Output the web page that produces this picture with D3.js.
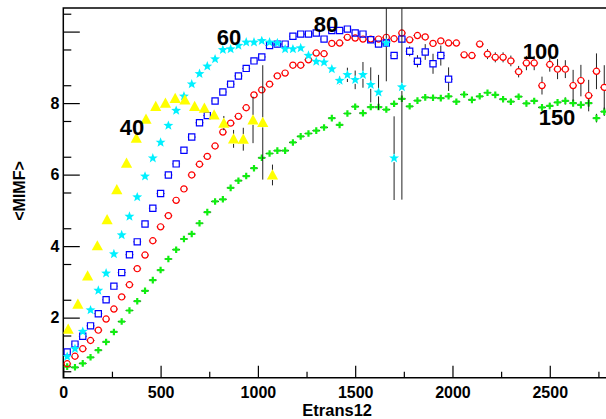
<!DOCTYPE html>
<html>
<head>
<meta charset="utf-8">
<script src="https://cdn.jsdelivr.net/npm/d3@7"></script>
<style>
  body { margin: 0; background: #fff; }
  svg { display: block; font-family: "Liberation Sans", Arial, sans-serif; font-weight: bold; }
  .axis text { font-size: 16px; font-weight: bold; fill: #000; }
  .axis line { stroke: #000; stroke-width: 1.2; }
</style>
</head>
<body>
<svg id="chart" width="606" height="419"></svg>
<script>
// <MIMF> vs Etrans12, one curve per label

const x40 = [25, 75, 125, 175, 225, 275, 325, 375, 425, 475, 525, 575, 625, 675, 725, 775, 825, 875, 925, 975, 1025, 1075];
const mimf40 = [1.68, 2.38, 3.17, 4.01, 4.74, 5.58, 6.32, 7.02, 7.55, 7.91, 8.00, 8.13, 8.09, 7.91, 7.86, 7.67, 7.44, 7.00, 6.99, 7.53, 7.46, 5.99];
const err40 = [0, 0, 0, 0, 0, 0, 0, 0, 0, 0, 0, 0, 0, 0.05, 0.08, 0.1, 0.2, 0.25, 0.32, 0.65, 1.6, 0.29];

const x60 = [20, 60, 100, 140, 180, 220, 260, 300, 340, 380, 420, 460, 500, 540, 580, 620, 660, 700, 740, 780, 820, 860,
  900, 940, 980, 1020, 1060, 1100, 1140, 1180, 1220, 1260, 1300, 1340, 1380, 1420, 1460, 1500, 1540, 1580, 1620, 1660, 1700, 1740];
const mimf60 = [0.91, 1.13, 1.61, 2.21, 2.76, 3.24, 3.78, 4.31, 4.83, 5.37, 5.95, 6.46, 6.90, 7.37, 7.79, 8.19, 8.53, 8.82, 9.03, 9.23, 9.49, 9.51,
  9.61, 9.70, 9.70, 9.74, 9.70, 9.68, 9.51, 9.51, 9.54, 9.33, 9.16, 9.14, 8.95, 8.63, 8.79, 8.65, 8.79, 8.51, 8.30, 9.68, 6.46, 8.45];
const err60 = [0, 0, 0, 0, 0, 0, 0, 0, 0, 0, 0, 0, 0, 0, 0, 0, 0, 0, 0, 0, 0, 0,
  0, 0, 0, 0, 0, 0, 0, 0, 0, 0, 0, 0.05, 0.1, 0.12, 0.2, 0.26, 0.36, 0.49, 0.49, 1.07, 1.17, 3.15];

const x80 = [20, 60, 100, 140, 180, 220, 260, 300, 340, 380, 420, 460, 500, 540, 580, 620, 660, 700, 740, 780, 820, 860,
  900, 940, 980, 1020, 1060, 1100, 1140, 1180, 1220, 1260, 1300, 1340, 1380, 1420, 1460, 1500, 1540, 1580, 1620, 1660, 1700, 1740,
  1780, 1820, 1860, 1900, 1940, 1980];
const mimf80 = [1.04, 1.26, 1.48, 1.77, 2.11, 2.50, 2.88, 3.26, 3.76, 4.12, 4.62, 5.06, 5.47, 5.99, 6.30, 6.68, 7.05, 7.45, 7.65, 8.06, 8.31, 8.53,
  8.76, 8.97, 9.18, 9.29, 9.61, 9.65, 9.65, 9.87, 9.93, 9.93, 9.96, 9.79, 10.03, 10.03, 10.07, 9.96, 9.93, 9.77, 9.65, 9.68, 9.33, 9.79,
  9.45, 9.17, 9.43, 9.10, 9.33, 8.67];
const err80 = [0, 0, 0, 0, 0, 0, 0, 0, 0, 0, 0, 0, 0, 0, 0, 0, 0, 0, 0, 0, 0, 0,
  0, 0, 0, 0, 0, 0, 0, 0, 0, 0, 0, 0, 0, 0, 0, 0.05, 0.05, 0.06, 0.08, 0.08, 0.1, 0.1,
  0.14, 0.17, 0.22, 0.28, 0.28, 0.33];

const x100 = [20, 60, 100, 140, 180, 220, 260, 300, 340, 380, 420, 460, 500, 540, 580, 620, 660, 700, 740, 780, 820, 860,
  900, 940, 980, 1020, 1060, 1100, 1140, 1180, 1220, 1260, 1300, 1340, 1380, 1420, 1460, 1500, 1540, 1580, 1620, 1660, 1700, 1740,
  1780, 1820, 1860, 1900, 1940, 1980, 2020, 2060, 2100, 2140, 2180, 2220, 2260, 2300, 2340, 2380, 2420, 2460, 2500, 2540, 2580,
  2620, 2660, 2700, 2740, 2780];
const mimf100 = [0.71, 0.92, 1.13, 1.36, 1.65, 1.96, 2.24, 2.58, 2.92, 3.37, 3.75, 4.15, 4.54, 4.85, 5.28, 5.60, 5.99, 6.29, 6.51, 6.80, 7.19, 7.44,
  7.63, 7.87, 8.23, 8.37, 8.53, 8.76, 8.84, 9.06, 9.06, 9.21, 9.40, 9.38, 9.67, 9.68, 9.84, 9.82, 9.79, 9.79, 9.79, 9.84, 9.80, 9.96,
  9.77, 9.89, 9.85, 9.67, 9.74, 9.68, 9.68, 9.35, 9.33, 9.65, 9.37, 9.28, 9.28, 9.18, 8.88, 9.12, 9.12, 8.49, 9.08, 8.95, 8.95,
  8.49, 8.63, 8.21, 8.89, 8.44];
const err100 = [0, 0, 0, 0, 0, 0, 0, 0, 0, 0, 0, 0, 0, 0, 0, 0, 0, 0, 0, 0, 0, 0,
  0, 0, 0, 0, 0, 0, 0, 0, 0, 0, 0, 0, 0, 0, 0, 0, 0, 0, 0, 0, 0, 0,
  0.04, 0.04, 0.05, 0.05, 0.05, 0.06, 0.06, 0.08, 0.08, 0.1, 0.14, 0.14, 0.14, 0.15, 0.16, 0.2, 0.2, 0.25, 0.2, 0.28, 0.25,
  0.44, 0.44, 0.44, 0.5, 0.62];

const x150 = x100;
const mimf150 = [0.63, 0.61, 0.72, 0.89, 1.09, 1.32, 1.60, 1.89, 2.20, 2.46, 2.75, 3.05, 3.33, 3.64, 3.90, 4.20, 4.34, 4.64, 4.95, 5.25, 5.31, 5.63,
  5.83, 5.96, 6.18, 6.47, 6.59, 6.67, 6.67, 6.90, 7.07, 7.15, 7.23, 7.32, 7.58, 7.39, 7.71, 7.90, 7.72, 7.89, 7.89, 7.82, 7.98, 8.12,
  7.91, 8.07, 8.16, 8.15, 8.14, 8.19, 8.04, 8.24, 8.09, 8.19, 8.29, 8.23, 8.11, 8.04, 8.18, 7.99, 8.06, 7.88, 7.92, 8.02, 8.06,
  8.00, 7.95, 8.00, 7.58, 7.76];
const err150 = [0.04, 0.04, 0.04, 0.04, 0.04, 0.04, 0.04, 0.04, 0.04, 0.04, 0.04, 0.04, 0.04, 0.04, 0.04, 0.04, 0.04, 0.04, 0.04, 0.04,
  0.04, 0.04, 0.04, 0.04, 0.04, 0.04, 0.04, 0.04, 0.04, 0.04, 0.04, 0.04, 0.04, 0.04, 0.04, 0.04, 0.04, 0.04, 0.04, 0.04,
  0.05, 0.05, 0.05, 0.05, 0.05, 0.05, 0.05, 0.05, 0.05, 0.05, 0.06, 0.06, 0.06, 0.06, 0.06, 0.06, 0.07, 0.07, 0.07, 0.08,
  0.08, 0.08, 0.09, 0.09, 0.1, 0.1, 0.1, 0.1, 0.12, 0.12];

const xTicks = [0, 500, 1000, 1500, 2000, 2500];
const yTicks = [2, 4, 6, 8, 10];
const yTickLabels = ['2', '4', '6', '8', ''];

const curveLabels = [
  {text: '40', x: 132, y: 135},
  {text: '60', x: 229, y: 45},
  {text: '80', x: 326, y: 31.5},
  {text: '100', x: 541, y: 59},
  {text: '150', x: 557, y: 125}
];

const svg = d3.select('#chart');
const mLeft = 63.3, mRight = 606.2, mTop = 8, mBottom = 377.7;

const xScale = d3.scaleLinear().domain([0, 2790]).range([mLeft, mRight]);
const yScale = d3.scaleLinear().domain([0.32, 10.66]).range([mBottom, mTop]);

svg.append('defs').append('clipPath').attr('id', 'clip')
  .append('rect').attr('x', mLeft).attr('y', mTop).attr('width', mRight - mLeft).attr('height', mBottom - mTop);

// axes (ticks point inward, ROOT style)
svg.append('g').attr('class', 'axis')
  .attr('transform', `translate(0,${mBottom})`)
  .call(d3.axisBottom(xScale).tickValues(xTicks).tickSize(-12).tickPadding(9).tickFormat(d3.format('d')))
  .call(g => g.select('.domain').remove());
svg.append('g').attr('class', 'axis')
  .attr('transform', `translate(0,${mBottom})`)
  .call(d3.axisBottom(xScale).tickValues(d3.range(250, 2790, 500)).tickSize(-6).tickFormat(''))
  .call(g => g.select('.domain').remove());

svg.append('g').attr('class', 'axis')
  .attr('transform', `translate(${mLeft},0)`)
  .call(d3.axisLeft(yScale).tickValues(yTicks).tickSize(-16.5).tickPadding(4).tickFormat((d, i) => yTickLabels[i]))
  .call(g => g.select('.domain').remove());
svg.append('g').attr('class', 'axis')
  .attr('transform', `translate(${mLeft},0)`)
  .call(d3.axisLeft(yScale).tickValues(d3.range(0.5, 10.6, 1)).tickSize(-8).tickFormat(''))
  .call(g => g.select('.domain').remove());

// frame
svg.append('path')
  .attr('d', `M${mRight + 2},${mTop}H${mLeft}V${mBottom}H${mRight + 2}`)
  .attr('fill', 'none').attr('stroke', '#000').attr('stroke-width', 1.5);

// axis titles
svg.append('text').attr('x', 372).attr('y', 416).attr('text-anchor', 'end')
  .style('font-size', '16.5px').text('Etrans12');
svg.append('text').attr('transform', 'translate(25,191) rotate(-90)').attr('text-anchor', 'middle')
  .style('font-size', '16px').text('<MIMF>');

const plot = svg.append('g').attr('clip-path', 'url(#clip)');

function starPath(ro, ri) {
  let p = '';
  for (let i = 0; i < 10; i++) {
    const r = i % 2 ? ri : ro;
    const a = -Math.PI / 2 + i * Math.PI / 5;
    p += (i ? 'L' : 'M') + (r * Math.cos(a)).toFixed(2) + ',' + (r * Math.sin(a)).toFixed(2);
  }
  return p + 'Z';
}

const series = [
  {xs: x150, ys: mimf150, es: err150, dx: 20, r: 2.6,
    path: d3.symbol(d3.symbolCross, 24)(), fill: '#10ee10', stroke: 'none'},
  {xs: x100, ys: mimf100, es: err100, dx: 20, r: 3.3,
    path: d3.symbol(d3.symbolCircle, 30)(), fill: 'none', stroke: '#ff0000'},
  {xs: x80, ys: mimf80, es: err80, dx: 20, r: 3.3,
    path: 'M-3.1,-3.1H3.1V3.1H-3.1Z', fill: 'none', stroke: '#0000ff'},
  {xs: x60, ys: mimf60, es: err60, dx: 20, r: 4,
    path: starPath(5.2, 2.2), fill: '#00f0ff', stroke: 'none'},
  {xs: x40, ys: mimf40, es: err40, dx: 25, r: 5,
    path: 'M0,-5.6L5.6,4.6H-5.6Z', fill: '#ffff00', stroke: 'none'}
];

series.forEach(s => {
  const pts = s.xs.map((x, i) => ({x: x, y: s.ys[i], e: s.es[i]}));
  const g = plot.append('g');
  // error bars drawn outside the marker
  g.selectAll('.ex').data(pts).join('path')
    .attr('d', d => {
      const cx = xScale(d.x), cy = yScale(d.y);
      const x0 = xScale(d.x - s.dx), x1 = xScale(d.x + s.dx);
      let p = '';
      if (cx - x0 > s.r) p += `M${x0},${cy}H${cx - s.r}M${cx + s.r},${cy}H${x1}`;
      const y0 = yScale(d.y + d.e), y1 = yScale(d.y - d.e);
      if (cy - y0 > s.r) p += `M${cx},${y0}V${cy - s.r}M${cx},${cy + s.r}V${y1}`;
      return p || null;
    })
    .attr('stroke', '#222').attr('stroke-width', 1).attr('fill', 'none');
  g.selectAll('.m').data(pts).join('path')
    .attr('transform', d => `translate(${xScale(d.x)},${yScale(d.y)})`)
    .attr('d', s.path)
    .attr('fill', s.fill)
    .attr('stroke', s.stroke)
    .attr('stroke-width', 1.2);
});

svg.selectAll('.curve-label').data(curveLabels).join('text')
  .attr('class', 'curve-label')
  .attr('x', d => d.x).attr('y', d => d.y)
  .attr('text-anchor', 'middle')
  .style('font-size', '22px')
  .text(d => d.text);
</script>
</body>
</html>
